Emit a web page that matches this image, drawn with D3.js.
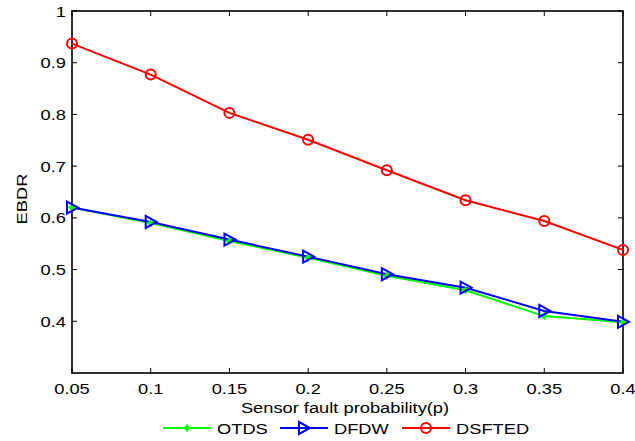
<!DOCTYPE html>
<html><head><meta charset="utf-8">
<script src="https://cdn.jsdelivr.net/npm/d3@7"></script>
<style>
body{margin:0;background:#fff;}
text{font-family:"Liberation Sans",Arial,sans-serif;fill:#000;}
</style></head>
<body>
<svg id="c" width="635" height="441"></svg>
<script>
const xValues = [0.05, 0.1, 0.15, 0.2, 0.25, 0.3, 0.35, 0.4];
const otds   = [0.620, 0.590, 0.555, 0.523, 0.488, 0.460, 0.410, 0.398];
const dfdw   = [0.620, 0.592, 0.558, 0.525, 0.491, 0.465, 0.420, 0.399];
const dsfted = [0.937, 0.877, 0.803, 0.751, 0.692, 0.634, 0.594, 0.538];
const xTicks = [0.05, 0.1, 0.15, 0.2, 0.25, 0.3, 0.35, 0.4];
const yTicks = [0.4, 0.5, 0.6, 0.7, 0.8, 0.9, 1];
const seriesNames = ["OTDS", "DFDW", "DSFTED"];
const seriesColors = ["#00ff00", "#0000ff", "#ff0000"];

const svg = d3.select("#c");
const L = 72, R = 623, T = 11, B = 373;
const x = d3.scaleLinear().domain([0.05, 0.4]).range([L, R]);
const y = d3.scaleLinear().domain([0.3, 1]).range([B, T]);
const fs = 15.5, sx = 1.18;

// axes box
svg.append("rect").attr("x", L).attr("y", T).attr("width", R - L).attr("height", B - T)
  .attr("fill", "none").attr("stroke", "#000").attr("stroke-width", 1.6);

const tickLen = 5;
const g = svg.append("g");
xTicks.forEach(t => {
  g.append("line").attr("x1", x(t)).attr("x2", x(t)).attr("y1", B).attr("y2", B - tickLen).attr("stroke", "#000");
  g.append("line").attr("x1", x(t)).attr("x2", x(t)).attr("y1", T).attr("y2", T + tickLen).attr("stroke", "#000");
  g.append("text").attr("transform", `translate(${x(t)},394) scale(${sx},1)`)
    .attr("text-anchor", "middle").attr("font-size", fs).text(d3.format("")(t));
});
yTicks.forEach(t => {
  g.append("line").attr("x1", L).attr("x2", L + tickLen).attr("y1", y(t)).attr("y2", y(t)).attr("stroke", "#000");
  g.append("line").attr("x1", R).attr("x2", R - tickLen).attr("y1", y(t)).attr("y2", y(t)).attr("stroke", "#000");
  g.append("text").attr("transform", `translate(${L - 6},${y(t) + 5.5}) scale(${sx},1)`)
    .attr("text-anchor", "end").attr("font-size", fs).text(t);
});

svg.append("text").attr("transform", `translate(345,413) scale(${sx},1)`)
  .attr("text-anchor", "middle").attr("font-size", fs).text("Sensor fault probability(p)");
svg.append("text").attr("transform", `translate(27,199) rotate(-90) scale(${sx},1)`)
  .attr("text-anchor", "middle").attr("font-size", fs).text("EBDR");

const line = d3.line().x((d, i) => x(xValues[i])).y(d => y(d));
const data = [otds, dfdw, dsfted];

function marker(sel, k, cx, cy) {
  const c = seriesColors[k];
  if (k === 0) {
    sel.append("circle").attr("cx", cx).attr("cy", cy).attr("r", 2.6).attr("fill", c);
    sel.append("path").attr("d", `M${cx-4},${cy}H${cx+4}M${cx},${cy-4}V${cy+4}`).attr("stroke", c).attr("stroke-width", 1.4);
  } else if (k === 1) {
    sel.append("path").attr("d", `M${cx-5},${cy-6}L${cx+6},${cy}L${cx-5},${cy+6}Z`)
      .attr("fill", "none").attr("stroke", c).attr("stroke-width", 2);
  } else {
    sel.append("circle").attr("cx", cx).attr("cy", cy).attr("r", 5)
      .attr("fill", "none").attr("stroke", c).attr("stroke-width", 2);
  }
}

data.forEach((vals, k) => {
  svg.append("path").datum(vals).attr("d", line).attr("fill", "none")
    .attr("stroke", seriesColors[k]).attr("stroke-width", 2);
});
data.forEach((vals, k) => {
  const gm = svg.append("g");
  vals.forEach((v, i) => marker(gm, k, x(xValues[i]), y(v)));
});

// legend
const legX = [163, 280, 402];
seriesNames.forEach((n, k) => {
  const lg = svg.append("g");
  lg.append("line").attr("x1", legX[k]).attr("x2", legX[k] + 48).attr("y1", 428).attr("y2", 428)
    .attr("stroke", seriesColors[k]).attr("stroke-width", 2);
  marker(lg, k, legX[k] + 24, 428);
  lg.append("text").attr("transform", `translate(${legX[k] + 54},434) scale(${sx},1)`)
    .attr("font-size", fs).text(n);
});
</script>
</body></html>
